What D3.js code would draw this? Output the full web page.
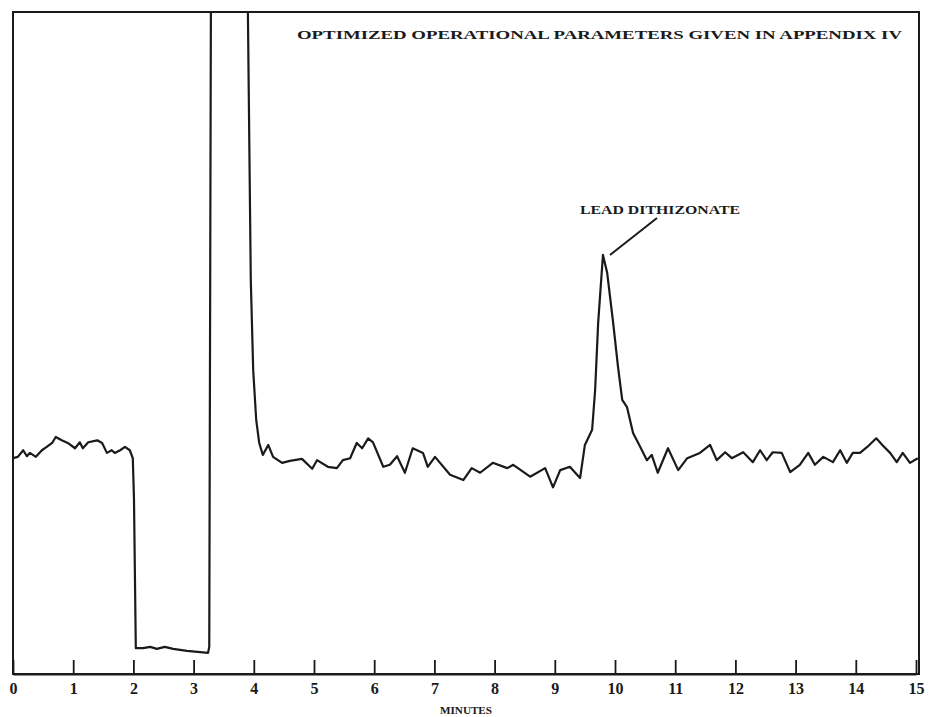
<!DOCTYPE html>
<html>
<head>
<meta charset="utf-8">
<script src="https://cdn.jsdelivr.net/npm/d3@7"></script>
<style>
  body { margin: 0; background: #fff; }
  text { font-family: "Liberation Serif", serif; fill: #1a1a1a; }
</style>
</head>
<body>
<svg></svg>
<script>
var width = 933,
    height = 717;

// detector trace (minutes, relative response)
var minutes = [0.00, 0.08, 0.17, 0.23, 0.28, 0.38, 0.48, 0.56, 0.65, 0.71, 0.81, 0.91, 1.03, 1.11, 1.16, 1.25, 1.40, 1.48, 1.56, 1.64, 1.69, 1.78, 1.86, 1.94, 1.99,
  2.01, 2.04, 2.16, 2.28, 2.39, 2.52, 2.66, 2.89, 3.11, 3.24, 3.26, 3.29,
  3.89, 3.95, 3.99, 4.04, 4.09, 4.15, 4.24, 4.32, 4.47, 4.60, 4.80, 4.97, 5.05, 5.23, 5.38, 5.48, 5.60, 5.71, 5.80, 5.90, 5.98,
  6.15, 6.26, 6.38, 6.51, 6.64, 6.81, 6.89, 7.01, 7.26, 7.48, 7.62, 7.76, 7.97, 8.21, 8.31, 8.59, 8.84, 8.97, 9.09, 9.25, 9.37, 9.42,
  9.50, 9.62, 9.67, 9.72, 9.80, 9.87, 9.97, 10.05, 10.12, 10.20, 10.30, 10.42, 10.53, 10.61, 10.71,
  10.88, 11.05, 11.20, 11.41, 11.58, 11.69, 11.83, 11.94,
  12.13, 12.29, 12.41, 12.52, 12.62, 12.77, 12.91, 13.07, 13.21, 13.32, 13.46, 13.62, 13.74, 13.85, 13.95, 14.07, 14.19, 14.34, 14.44, 14.57, 14.68, 14.78, 14.90, 15.03];

var response = [32.6, 32.8, 33.8, 32.9, 33.4, 32.8, 33.8, 34.3, 34.9, 35.8, 35.3, 34.9, 34.1, 35.0, 34.1, 35.0, 35.3, 34.9, 33.4, 33.8, 33.4, 33.8, 34.3, 33.8, 32.6,
  26.3, 3.9, 3.9, 4.1, 3.8, 4.1, 3.8, 3.5, 3.3, 3.2, 4.1, 110,
  110, 59.5, 45.9, 38.4, 34.9, 33.1, 34.6, 32.8, 31.9, 32.2, 32.5, 31.0, 32.3, 31.3, 31.1, 32.3, 32.6, 34.9, 34.1, 35.6, 35.0,
  31.3, 31.6, 32.9, 30.4, 34.1, 33.4, 31.3, 32.8, 30.1, 29.3, 31.1, 30.4, 31.9, 31.1, 31.6, 29.8, 31.1, 28.2, 30.8, 31.3, 30.1, 29.6,
  34.6, 36.9, 42.9, 53.0, 63.3, 60.6, 53.0, 46.4, 41.4, 40.3, 36.4, 34.3, 32.3, 33.1, 30.4,
  34.1, 30.8, 32.6, 33.4, 34.6, 32.3, 33.5, 32.6,
  33.5, 32.0, 33.8, 32.3, 33.5, 33.4, 30.5, 31.6, 33.4, 31.6, 32.8, 32.0, 33.8, 31.9, 33.4, 33.4, 34.3, 35.6, 34.6, 33.4, 32.0, 33.4, 31.9, 32.6];

var tickValues = [0, 1, 2, 3, 4, 5, 6, 7, 8, 9, 10, 11, 12, 13, 14, 15];
var title = "OPTIMIZED OPERATIONAL PARAMETERS GIVEN IN APPENDIX IV";
var peakLabel = "LEAD DITHIZONATE";
var peakTime = 9.80, peakValue = 63.3;

var svg = d3.select("svg")
    .attr("width", width)
    .attr("height", height);

// plot frame (named so they don't clash with window.top)
var frameL = 13, frameR = 919, frameT = 12, frameB = 674;

var x = d3.scaleLinear().domain([0, 15]).range([frameL, 916]);
var y = d3.scaleLinear().domain([0, 100]).range([frameB, frameT]);

svg.append("clipPath").attr("id", "frame")
  .append("rect")
    .attr("x", frameL).attr("y", frameT)
    .attr("width", frameR - frameL).attr("height", frameB - frameT);

svg.append("rect")
    .attr("x", frameL).attr("y", frameT)
    .attr("width", frameR - frameL).attr("height", frameB - frameT)
    .attr("fill", "none")
    .attr("stroke", "#1a1a1a")
    .attr("stroke-width", 2);

// x axis, ticks pointing into the plot
var axis = svg.append("g")
    .attr("transform", "translate(0," + frameB + ")")
    .call(d3.axisBottom(x)
      .tickValues(tickValues)
      .tickSizeInner(-14)
      .tickSizeOuter(0)
      .tickPadding(9)
      .tickFormat(d3.format("d")));

axis.select(".domain").attr("stroke", "#1a1a1a").attr("stroke-width", 2);
axis.selectAll(".tick line").attr("stroke", "#1a1a1a").attr("stroke-width", 1.8);
axis.selectAll(".tick text")
    .style("font-family", "'Liberation Serif', serif")
    .style("font-size", "16px")
    .style("font-weight", "bold")
    .attr("fill", "#1a1a1a");

svg.append("text")
    .attr("x", 440).attr("y", 714)
    .attr("textLength", 52)
    .attr("lengthAdjust", "spacingAndGlyphs")
    .style("font-size", "11px")
    .style("font-weight", "bold")
    .text("MINUTES");

// trace
var data = minutes.map(function(d, i) { return { t: d, v: response[i] }; });

var line = d3.line()
    .x(function(d) { return x(d.t); })
    .y(function(d) { return y(d.v); });

svg.append("path")
    .datum(data)
    .attr("clip-path", "url(#frame)")
    .attr("d", line)
    .attr("fill", "none")
    .attr("stroke", "#1a1a1a")
    .attr("stroke-width", 2.2)
    .attr("stroke-linejoin", "round");

// annotations
svg.append("text")
    .attr("x", 297).attr("y", 39)
    .attr("textLength", 605)
    .attr("lengthAdjust", "spacingAndGlyphs")
    .style("font-size", "13px")
    .style("font-weight", "bold")
    .text(title);

svg.append("text")
    .attr("x", 580).attr("y", 214)
    .attr("textLength", 160)
    .attr("lengthAdjust", "spacingAndGlyphs")
    .style("font-size", "13px")
    .style("font-weight", "bold")
    .text(peakLabel);

svg.append("line")
    .attr("x1", 657).attr("y1", 218)
    .attr("x2", x(peakTime) + 7).attr("y2", y(peakValue))
    .attr("stroke", "#1a1a1a")
    .attr("stroke-width", 2);
</script>
</body>
</html>
